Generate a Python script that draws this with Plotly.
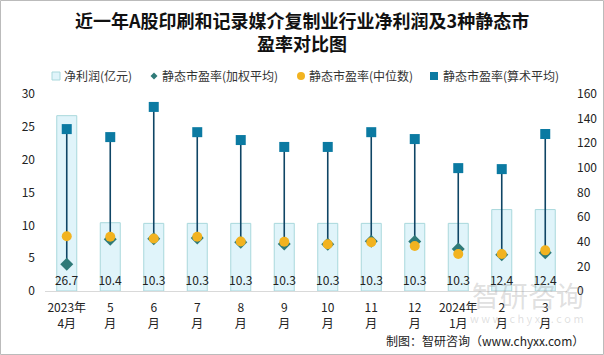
import plotly.graph_objects as go

categories = ["2023年<br>4月", "5<br>月", "6<br>月", "7<br>月", "8<br>月", "9<br>月",
              "10<br>月", "11<br>月", "12<br>月", "2024年<br>1月", "2<br>月", "3<br>月"]
net_profit = [26.7, 10.4, 10.3, 10.3, 10.3, 10.3, 10.3, 10.3, 10.3, 10.3, 12.4, 12.4]
pe_weighted = [21.7, 42, 42.5, 43, 39.5, 38.2, 38, 40.5, 40.2, 34.2, 29.5, 31]
pe_median = [44.5, 44, 42.6, 44, 40.2, 40, 38, 39.6, 36.6, 30, 30, 33]
pe_mean = [131.5, 125, 149.5, 129, 122.6, 117, 117, 129, 123.4, 99.8, 99, 127.5]
series_names = ["净利润(亿元)", "静态市盈率(加权平均)", "静态市盈率(中位数)", "静态市盈率(算术平均)"]

FONT = "Noto Sans CJK SC"
W, H = 604, 355
ML, MR, MT, MB = 45, 37, 94, 64
PW, PH = W - ML - MR, H - MT - MB

C_BAR, C_BAR_LINE = "#e0f4fa", "#a9d8dc"
C_DIA, C_CIR, C_SQ, C_LINE = "#2f7a78", "#f2b320", "#0b7aa2", "#0f4565"


def px(x):
    return (x - ML) / PW


def py(y):
    return (H - MB - y) / PH


fig = go.Figure()

fig.add_trace(go.Bar(
    x=categories, y=net_profit, name=series_names[0], width=0.46,
    marker=dict(color=C_BAR, line=dict(color=C_BAR_LINE, width=1)),
    text=[f"{v:.1f}" for v in net_profit], textposition="inside",
    insidetextanchor="start", constraintext="none", textangle=0,
    insidetextfont=dict(size=12, color="#222", family=FONT),
    cliponaxis=False, yaxis="y",
))

# high-low lines
lx, ly = [], []
for c, a, b, m in zip(categories, pe_weighted, pe_median, pe_mean):
    lx += [c, c, None]
    ly += [min(a, b), m, None]
fig.add_trace(go.Scatter(
    x=lx, y=ly, mode="lines", line=dict(color=C_LINE, width=1.6),
    showlegend=False, hoverinfo="skip", yaxis="y2",
))

fig.add_trace(go.Scatter(
    x=categories, y=pe_weighted, mode="markers", name=series_names[1],
    marker=dict(symbol="diamond", size=10, color=C_DIA), yaxis="y2",
))
fig.add_trace(go.Scatter(
    x=categories, y=pe_median, mode="markers", name=series_names[2],
    marker=dict(symbol="circle", size=10, color=C_CIR), yaxis="y2",
))
fig.add_trace(go.Scatter(
    x=categories, y=pe_mean, mode="markers", name=series_names[3],
    marker=dict(symbol="square", size=10, color=C_SQ), yaxis="y2",
))

fig.update_layout(
    width=W, height=H,
    margin=dict(l=ML, r=MR, t=MT, b=MB, autoexpand=False),
    paper_bgcolor="white", plot_bgcolor="white",
    font=dict(family=FONT, size=12, color="#222"),
    xaxis=dict(showline=True, linecolor="#d9d9d9", linewidth=1, ticks="",
               range=[-0.5, len(categories) - 0.5], ticklabelstandoff=6,
               tickfont=dict(size=12), showgrid=False),
    yaxis=dict(range=[0, 30], dtick=5, showgrid=False, zeroline=False,
               ticklabelstandoff=9, tickfont=dict(size=12), ticklen=0),
    yaxis2=dict(range=[0, 160], dtick=20, overlaying="y", side="right",
                ticklabelstandoff=9, showgrid=False, zeroline=False,
                tickfont=dict(size=12)),
    bargap=0.5,
    showlegend=False,
)

# manual legend (compact, like the reference)
LY = 76
fig.add_shape(type="rect", xref="paper", yref="paper", x0=px(52), x1=px(60),
              y0=py(LY + 4), y1=py(LY - 4), fillcolor=C_BAR, line=dict(color=C_BAR_LINE, width=1))
fig.add_shape(type="path", xref="paper", yref="paper",
              path=f"M {px(150.5)} {py(LY)} L {px(154)} {py(LY - 3.5)} L {px(157.5)} {py(LY)} "
                   f"L {px(154)} {py(LY + 3.5)} Z",
              fillcolor=C_DIA, line=dict(color=C_DIA, width=0))
fig.add_shape(type="circle", xref="paper", yref="paper", x0=px(297), x1=px(305),
              y0=py(LY + 4), y1=py(LY - 4), fillcolor=C_CIR, line=dict(color=C_CIR, width=0))
fig.add_shape(type="rect", xref="paper", yref="paper", x0=px(430), x1=px(438),
              y0=py(LY + 4), y1=py(LY - 4), fillcolor=C_SQ, line=dict(color=C_SQ, width=0))
for name, lx0 in zip(series_names, [62, 160, 307, 441]):
    fig.add_annotation(text=name, xref="paper", yref="paper", x=px(lx0), y=py(LY),
                       xanchor="left", yanchor="middle", showarrow=False,
                       font=dict(size=12, color="#333", family=FONT))

fig.add_annotation(text="<b>近一年A股印刷和记录媒介复制业行业净利润及3种静态市<br>盈率对比图</b>",
                   xref="paper", yref="paper", x=px(302), y=py(32), xanchor="center",
                   yanchor="middle", showarrow=False,
                   font=dict(size=18, family=FONT, color="#111"))

# watermark and source
fig.add_annotation(text="智研咨询", xref="paper", yref="paper", x=px(586), y=py(295),
                   xanchor="right", yanchor="middle", showarrow=False,
                   font=dict(size=28, color="rgba(150,150,150,0.3)", family=FONT))
fig.add_annotation(text="w w w . c h y x x . c o m", xref="paper", yref="paper", x=px(586), y=py(318),
                   xanchor="right", yanchor="middle", showarrow=False,
                   font=dict(size=11, color="rgba(150,150,150,0.3)", family=FONT))
fig.add_annotation(text="制图：智研咨询（www.chyxx.com）", xref="paper", yref="paper",
                   x=px(586), y=py(340), xanchor="right", yanchor="middle", showarrow=False,
                   font=dict(size=12, color="#222", family=FONT))

fig.add_shape(type="rect", xref="paper", yref="paper", x0=px(0.5), x1=px(603.5),
              y0=py(354.5), y1=py(0.5), line=dict(color="#bbbbbb", width=1))

fig.write_html("out.html", config={"displayModeBar": False},
               post_script="document.body.style.margin='0';")
